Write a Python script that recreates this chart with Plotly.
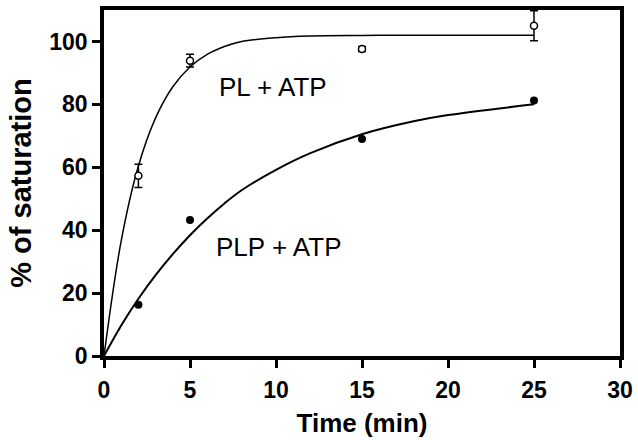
import plotly.graph_objects as go

# Measured data points
time_pts = [2, 5, 15, 25]
pl_atp = [57.3, 93.9, 97.6, 105.0]
pl_atp_err = [3.7, 2.0, 0.8, 4.8]
plp_atp = [16.3, 43.2, 69.0, 81.2]

# Fitted curves
curve_t = [0, 1, 2, 3, 4, 5, 6, 7, 8, 10, 12, 15, 18, 20, 25]
pl_curve = [0, 36.6, 60.4, 75.7, 85.6, 91.9, 95.9, 98.4, 100.0, 101.2, 101.7, 101.9, 102.0, 102.0, 102.0]
plp_curve = [0, 9.7, 18.2, 25.7, 32.4, 38.4, 43.7, 48.5, 52.7, 59.2, 64.5, 70.5, 74.6, 76.6, 80.0]

x_ticks = [0, 5, 10, 15, 20, 25, 30]
y_ticks = [0, 20, 40, 60, 80, 100]

FONT = "Liberation Sans, Arial, sans-serif"

fig = go.Figure()
fig.add_trace(go.Scatter(x=curve_t, y=pl_curve, mode="lines", line=dict(color="black", width=1.5, shape="spline"), showlegend=False))
fig.add_trace(go.Scatter(x=curve_t, y=plp_curve, mode="lines", line=dict(color="black", width=2, shape="spline"), showlegend=False))
fig.add_trace(go.Scatter(
    x=time_pts, y=pl_atp, mode="markers",
    error_y=dict(type="data", array=pl_atp_err, color="black", thickness=1.5, width=4),
    marker=dict(symbol="circle", size=7, color="white", line=dict(color="black", width=1.5)),
    showlegend=False))
fig.add_trace(go.Scatter(
    x=time_pts, y=plp_atp, mode="markers",
    marker=dict(symbol="circle", size=8, color="black"),
    showlegend=False))

fig.add_annotation(x=9.85, y=85.5, text="PL + ATP", showarrow=False, font=dict(family=FONT, size=26, color="black"))
fig.add_annotation(x=10.2, y=34.8, text="PLP + ATP", showarrow=False, font=dict(family=FONT, size=26, color="black"))

axis_common = dict(
    showline=True, linecolor="black", linewidth=3.5, mirror=True,
    ticks="outside", ticklen=8, tickwidth=3, tickcolor="black",
    showgrid=False, zeroline=False, automargin=False,
    tickfont=dict(family=FONT, size=23, color="black", weight="bold"),
)

fig.update_xaxes(range=[0, 30], tickvals=x_ticks, ticklabelstandoff=3,
                 title=dict(text="Time (min)", font=dict(family=FONT, size=26, color="black", weight="bold"), standoff=12),
                 **axis_common)
fig.update_yaxes(range=[0, 110], tickvals=y_ticks,
                 title=dict(text="% of saturation", font=dict(family=FONT, size=29, color="black", weight="bold"), standoff=10),
                 **axis_common)

fig.update_layout(
    width=638, height=440,
    margin=dict(l=104, r=18, t=10, b=84),
    plot_bgcolor="white", paper_bgcolor="white",
)

fig.write_html("out.html")
